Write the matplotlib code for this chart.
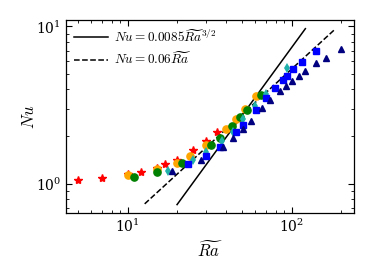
import numpy as np
import matplotlib
matplotlib.use("Agg")
import matplotlib.pyplot as plt

plt.rcParams['mathtext.fontset'] = 'cm'
plt.rcParams['font.family'] = 'serif'
plt.rcParams['font.serif'] = ['DejaVu Serif']

# data
ra_red = [5.0, 7.0, 10.0, 12.0, 15.0, 17.0, 20.0, 25.0, 30.0, 35.0]
nu_red = [1.05, 1.09, 1.16, 1.19, 1.26, 1.33, 1.42, 1.63, 1.88, 2.12]

ra_orange = [10.0, 15.0, 20.0, 24.0, 30.0, 40.0, 45.5, 52.0, 60.8]
nu_orange = [1.13, 1.235, 1.35, 1.50, 1.77, 2.22, 2.58, 2.97, 3.62]

ra_green = [10.9, 15.1, 21.4, 32.4, 36.6, 43.0, 48.5, 53.7, 64.7]
nu_green = [1.10, 1.18, 1.35, 1.77, 1.94, 2.33, 2.64, 2.94, 3.66]

ra_cyan = [17.5, 25.0, 30.0, 37.6, 43.9, 50.3, 59.5, 69.4, 93.2]
nu_cyan = [1.20, 1.41, 1.58, 1.88, 2.14, 2.57, 3.12, 3.71, 5.45]

ra_blue = [23.3, 30.2, 36.4, 45.5, 50.5, 60.6, 69.4, 78.8, 87.8, 92.9, 101.9, 115.9, 139.5]
nu_blue = [1.33, 1.50, 1.70, 2.14, 2.36, 2.93, 3.49, 4.03, 4.55, 4.86, 5.32, 5.94, 6.98]

ra_navy = [18.7, 28.1, 38.1, 44.0, 50.3, 56.6, 66.3, 74.1, 84.5, 91.9, 100.4, 110.4, 120.0, 140.0, 160.6, 200.4]
nu_navy = [1.21, 1.42, 1.70, 1.94, 2.23, 2.52, 3.01, 3.40, 3.88, 4.19, 4.49, 4.85, 5.19, 5.81, 6.30, 7.22]

# fit lines as drawn (end points)
ra_solid = [20.0, 121.0]
nu_solid = [0.736, 9.67]
ra_dashed = [12.7, 185.0]
nu_dashed = [0.744, 9.67]

fig = plt.figure(figsize=(3.74, 2.80), dpi=100)
ax = fig.add_axes([0.176, 0.239, 0.771, 0.690])

ax.plot(ra_solid, nu_solid, 'k-', lw=1.1,
        label=r'$Nu = 0.0085\widetilde{Ra}^{3/2}$')
ax.plot(ra_dashed, nu_dashed, 'k--', lw=1.1,
        label=r'$Nu = 0.06\widetilde{Ra}$')

ms = 5.2
ax.plot(ra_red, nu_red, '*', color='#ff0000', ms=6, ls='none')
ax.plot(ra_orange, nu_orange, 'o', color='#ffa500', ms=ms, ls='none')
ax.plot(ra_green, nu_green, 'o', color='#008000', ms=ms, ls='none')
ax.plot(ra_cyan, nu_cyan, 'd', color='#20b2aa', ms=5.5, markeredgewidth=0, ls='none')
ax.plot(ra_blue, nu_blue, 's', color='#0000ff', ms=4.8, ls='none')
ax.plot(ra_navy, nu_navy, '^', color='#000080', ms=4.8, ls='none')

ax.set_xscale('log')
ax.set_yscale('log')
ax.set_xlim(4.2, 240)
ax.set_ylim(0.65, 11)

ax.tick_params(which='both', direction='in', top=True, right=True, labelsize=10)
ax.tick_params(which='major', length=4)
ax.tick_params(which='minor', length=2)
for s in ax.spines.values():
    s.set_linewidth(0.9)

ax.set_xlabel(r'$\widetilde{Ra}$', fontsize=12)
ax.set_ylabel(r'$Nu$', fontsize=12, labelpad=-2)

ax.legend(loc='upper left', frameon=False, fontsize=9.5, handlelength=2.6,
          handletextpad=0.45, labelspacing=0.45, borderaxespad=0.2)

fig.savefig('out.png', dpi=100)
